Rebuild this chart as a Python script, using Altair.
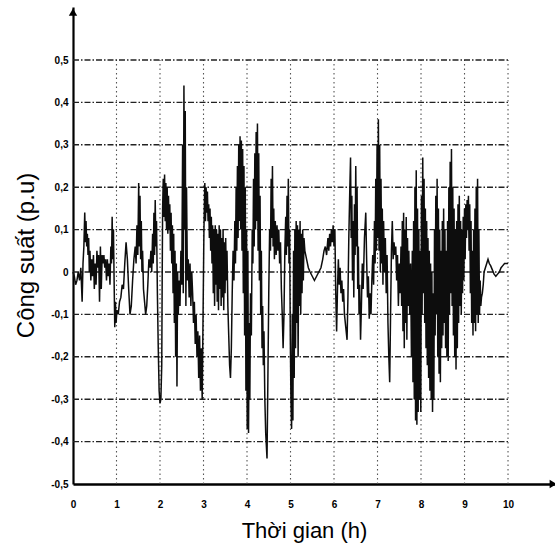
import altair as alt
import pandas as pd

# ---- readings (hours, per-unit power) ----
hours_0 = [0.00, 0.03, 0.06, 0.09, 0.12, 0.15, 0.18, 0.21, 0.23, 0.25, 0.27, 0.285, 0.30, 0.315, 0.33, 0.345, 0.36, 0.375, 0.39, 0.41, 0.43, 0.45, 0.47, 0.49, 0.51, 0.53, 0.55, 0.57, 0.59, 0.61, 0.63, 0.65, 0.67, 0.69, 0.71, 0.73, 0.75, 0.77, 0.79, 0.81, 0.83, 0.85, 0.87, 0.885, 0.90, 0.915, 0.93, 0.945, 0.96, 0.975, 0.99]
power_0 = [0.00, -0.01, -0.03, -0.02, 0.00, -0.02, 0.01, -0.07, 0.02, 0.06, 0.14, 0.07, 0.12, 0.06, 0.09, 0.04, 0.08, 0.00, 0.05, -0.02, 0.03, -0.01, 0.04, -0.04, 0.02, -0.03, 0.05, 0.01, 0.04, -0.07, 0.06, -0.04, 0.04, 0.02, 0.04, 0.01, 0.03, -0.02, 0.03, -0.01, 0.02, -0.03, 0.06, 0.02, 0.13, 0.03, 0.10, -0.02, -0.13, -0.07, -0.12]

hours_1 = [1.01, 1.04, 1.07, 1.10, 1.13, 1.16, 1.19, 1.22, 1.25, 1.28, 1.31, 1.34, 1.37, 1.40, 1.43, 1.45, 1.47, 1.49, 1.51, 1.525, 1.54, 1.555, 1.57, 1.585, 1.60, 1.62, 1.645, 1.67, 1.695, 1.72, 1.745, 1.77, 1.79, 1.81, 1.83, 1.845, 1.86, 1.875, 1.89, 1.905, 1.92, 1.94, 1.96, 1.98, 2.00]
power_1 = [-0.09, -0.10, -0.07, -0.06, -0.03, -0.04, 0.02, 0.07, 0.03, -0.04, -0.10, -0.08, -0.02, 0.03, 0.06, 0.02, 0.11, 0.04, 0.21, 0.06, 0.18, 0.03, 0.12, 0.00, 0.05, -0.04, -0.07, -0.10, -0.08, -0.03, 0.03, 0.01, 0.05, 0.00, 0.09, 0.02, 0.14, 0.04, 0.17, 0.06, 0.12, -0.05, -0.18, -0.28, -0.31]

hours_2 = [2.02, 2.04, 2.05, 2.06, 2.075, 2.09, 2.105, 2.12, 2.135, 2.15, 2.165, 2.18, 2.195, 2.21, 2.225, 2.24, 2.255, 2.27, 2.285, 2.30, 2.315, 2.33, 2.345, 2.36, 2.375, 2.39, 2.405, 2.42, 2.44, 2.46, 2.48, 2.50, 2.52, 2.535, 2.55, 2.565, 2.58, 2.595, 2.61, 2.63, 2.65, 2.67, 2.69, 2.71, 2.73, 2.75, 2.77, 2.79, 2.81, 2.83, 2.85, 2.87, 2.89, 2.91, 2.93, 2.95, 2.97, 2.99]
power_2 = [-0.30, -0.22, -0.02, 0.15, 0.22, 0.13, 0.23, 0.12, 0.21, 0.10, 0.20, 0.09, 0.18, 0.10, 0.16, 0.05, 0.14, 0.02, 0.11, -0.05, 0.09, -0.12, 0.05, -0.20, 0.02, -0.27, 0.00, -0.10, -0.02, -0.08, 0.05, -0.03, 0.30, -0.05, 0.44, 0.10, 0.38, -0.08, 0.20, -0.02, 0.03, -0.06, 0.02, -0.08, 0.00, -0.05, -0.12, -0.07, -0.17, -0.10, -0.20, -0.14, -0.25, -0.15, -0.28, -0.18, -0.30, -0.10]

hours_3 = [3.01, 3.03, 3.045, 3.06, 3.075, 3.09, 3.105, 3.12, 3.135, 3.15, 3.165, 3.18, 3.195, 3.21, 3.225, 3.24, 3.255, 3.27, 3.285, 3.30, 3.315, 3.33, 3.345, 3.36, 3.375, 3.39, 3.405, 3.42, 3.435, 3.45, 3.465, 3.48, 3.495, 3.51, 3.525, 3.54, 3.56, 3.58, 3.60, 3.62, 3.64, 3.66, 3.68, 3.70, 3.72, 3.735, 3.75, 3.765, 3.78, 3.795, 3.81, 3.825, 3.84, 3.855, 3.87, 3.885, 3.90, 3.915, 3.93, 3.945, 3.96, 3.975, 3.99]
power_3 = [0.10, 0.21, 0.12, 0.20, 0.14, 0.19, 0.12, 0.16, 0.08, 0.15, 0.05, 0.13, 0.02, 0.11, -0.05, 0.10, -0.08, 0.11, -0.03, 0.10, -0.07, 0.09, -0.09, 0.11, -0.04, 0.10, -0.08, 0.08, -0.06, 0.10, -0.09, 0.07, -0.05, 0.08, -0.02, 0.05, -0.08, -0.15, -0.22, -0.25, -0.18, -0.05, 0.05, -0.02, 0.12, 0.02, 0.20, 0.05, 0.25, 0.08, 0.30, 0.12, 0.32, 0.10, 0.31, 0.05, 0.29, -0.05, 0.25, -0.15, 0.20, -0.28, 0.10]

hours_4 = [4.005, 4.02, 4.035, 4.05, 4.065, 4.08, 4.10, 4.12, 4.135, 4.15, 4.165, 4.18, 4.195, 4.21, 4.225, 4.24, 4.255, 4.27, 4.285, 4.30, 4.315, 4.33, 4.345, 4.36, 4.375, 4.39, 4.41, 4.43, 4.46, 4.48, 4.50, 4.52, 4.54, 4.555, 4.57, 4.585, 4.60, 4.615, 4.63, 4.65, 4.67, 4.69, 4.71, 4.73, 4.75, 4.77, 4.79, 4.81, 4.83, 4.85, 4.87, 4.89, 4.905, 4.92, 4.935, 4.95, 4.965, 4.98, 4.995]
power_4 = [-0.37, 0.05, -0.38, -0.12, -0.30, -0.05, -0.15, 0.10, 0.02, 0.22, 0.06, 0.28, 0.10, 0.33, 0.12, 0.35, 0.05, 0.28, -0.02, 0.18, -0.10, 0.05, -0.18, -0.08, -0.22, -0.14, -0.30, -0.38, -0.44, -0.25, -0.05, 0.10, 0.05, 0.22, 0.08, 0.25, 0.06, 0.15, 0.03, 0.12, 0.04, 0.11, 0.05, 0.10, 0.02, 0.07, -0.04, -0.10, -0.18, -0.10, 0.05, 0.13, 0.04, 0.18, 0.06, 0.22, 0.02, 0.10, -0.15]

hours_5 = [5.01, 5.025, 5.04, 5.055, 5.07, 5.085, 5.10, 5.115, 5.13, 5.145, 5.16, 5.175, 5.19, 5.205, 5.22, 5.235, 5.25, 5.265, 5.28, 5.295, 5.31, 5.33, 5.37, 5.41, 5.45, 5.50, 5.55, 5.60, 5.65, 5.70, 5.74, 5.77, 5.80, 5.83, 5.86, 5.88, 5.90, 5.92, 5.94, 5.96, 5.98, 6.00]
power_5 = [-0.30, -0.37, -0.10, -0.35, 0.05, -0.25, 0.10, -0.18, 0.12, -0.12, 0.11, -0.20, 0.10, -0.08, 0.12, -0.10, 0.09, -0.05, 0.10, -0.02, 0.08, 0.05, 0.03, 0.01, 0.00, -0.01, -0.02, -0.01, 0.00, 0.01, 0.03, 0.05, 0.06, 0.04, 0.08, 0.05, 0.09, 0.06, 0.10, 0.07, 0.11, 0.06]

hours_6 = [6.02, 6.04, 6.06, 6.08, 6.10, 6.12, 6.14, 6.16, 6.18, 6.20, 6.22, 6.24, 6.27, 6.30, 6.32, 6.34, 6.36, 6.38, 6.395, 6.41, 6.425, 6.44, 6.455, 6.47, 6.485, 6.50, 6.515, 6.53, 6.545, 6.56, 6.575, 6.59, 6.61, 6.63, 6.65, 6.67, 6.70, 6.73, 6.75, 6.77, 6.79, 6.81, 6.83, 6.85, 6.87, 6.89, 6.91, 6.93, 6.945, 6.96, 6.975, 6.99]
power_6 = [0.10, -0.05, -0.14, -0.04, 0.03, -0.03, 0.01, -0.05, -0.02, -0.07, -0.04, -0.10, -0.13, -0.16, -0.06, 0.08, 0.18, 0.27, 0.08, 0.18, -0.02, 0.12, -0.06, 0.16, 0.04, 0.25, 0.06, 0.20, -0.04, 0.06, -0.10, -0.03, -0.16, -0.08, 0.02, -0.04, 0.08, 0.14, 0.03, -0.06, -0.01, -0.11, -0.05, -0.10, -0.02, 0.04, -0.03, 0.12, 0.02, 0.22, 0.05, 0.30]

hours_7 = [7.005, 7.02, 7.035, 7.05, 7.065, 7.08, 7.095, 7.11, 7.125, 7.14, 7.16, 7.18, 7.20, 7.22, 7.24, 7.26, 7.28, 7.30, 7.32, 7.34, 7.36, 7.38, 7.40, 7.42, 7.44, 7.46, 7.48, 7.50, 7.52, 7.54, 7.555, 7.57, 7.585, 7.60, 7.615, 7.63, 7.645, 7.66, 7.675, 7.69, 7.705, 7.72, 7.74, 7.76, 7.78, 7.80, 7.815, 7.83, 7.845, 7.86, 7.875, 7.89, 7.905, 7.92, 7.935, 7.95, 7.965, 7.98]
power_7 = [0.08, 0.36, 0.05, 0.30, 0.00, 0.22, 0.02, 0.15, -0.03, 0.12, 0.00, 0.08, -0.05, 0.04, -0.12, -0.20, -0.26, -0.10, 0.05, 0.12, 0.03, 0.07, 0.04, 0.06, -0.02, 0.04, -0.08, 0.02, -0.05, 0.06, -0.08, 0.12, -0.14, 0.14, -0.18, 0.10, -0.12, 0.13, -0.16, 0.08, -0.08, 0.05, -0.10, 0.02, -0.20, 0.05, -0.26, 0.12, -0.30, 0.20, -0.35, 0.24, -0.36, 0.15, -0.33, 0.10, -0.30, 0.05]

hours_8 = [7.995, 8.01, 8.025, 8.04, 8.055, 8.07, 8.085, 8.10, 8.115, 8.13, 8.145, 8.16, 8.175, 8.19, 8.205, 8.22, 8.235, 8.25, 8.265, 8.28, 8.295, 8.31, 8.325, 8.34, 8.355, 8.37, 8.385, 8.40, 8.415, 8.43, 8.445, 8.46, 8.475, 8.49, 8.505, 8.52, 8.535, 8.55, 8.565, 8.58, 8.595, 8.61, 8.625, 8.64, 8.655, 8.67, 8.685, 8.70, 8.715, 8.73, 8.745, 8.76, 8.775, 8.79, 8.805, 8.82, 8.835, 8.85, 8.865, 8.88, 8.895, 8.91, 8.925, 8.94, 8.955, 8.97, 8.985]
power_8 = [-0.33, 0.18, -0.10, 0.27, -0.05, 0.22, -0.12, 0.15, -0.18, 0.12, -0.22, 0.08, -0.25, 0.05, -0.28, 0.02, -0.30, 0.00, -0.33, -0.05, -0.30, 0.10, -0.15, 0.18, -0.10, 0.22, -0.20, 0.15, -0.24, 0.10, -0.26, 0.05, -0.18, 0.12, -0.15, 0.15, -0.12, 0.10, -0.18, 0.05, -0.20, 0.12, -0.21, 0.20, -0.10, 0.26, -0.05, 0.29, -0.08, 0.20, -0.15, 0.15, -0.20, 0.10, -0.23, 0.12, -0.18, 0.16, -0.12, 0.18, -0.08, 0.12, -0.10, 0.10, -0.05, 0.13, -0.02]

hours_9 = [9.00, 9.015, 9.03, 9.045, 9.06, 9.075, 9.09, 9.105, 9.12, 9.135, 9.15, 9.165, 9.18, 9.195, 9.21, 9.225, 9.24, 9.255, 9.27, 9.285, 9.30, 9.315, 9.33, 9.345, 9.36, 9.375, 9.39, 9.41, 9.43, 9.45, 9.48, 9.51, 9.54, 9.57, 9.60, 9.64, 9.68, 9.72, 9.76, 9.80, 9.84, 9.88, 9.92, 9.96, 10.00]
power_9 = [0.15, 0.03, 0.16, 0.08, 0.17, 0.10, 0.18, 0.05, 0.16, -0.05, 0.12, -0.12, 0.05, -0.15, 0.10, -0.12, 0.15, -0.14, 0.20, -0.10, 0.22, -0.12, 0.10, -0.10, -0.02, -0.08, -0.06, -0.05, -0.03, 0.00, 0.01, 0.02, 0.03, 0.02, 0.015, 0.005, -0.005, -0.01, -0.005, 0.00, 0.01, 0.015, 0.02, 0.02, 0.02]

x_ticks = [0, 1, 2, 3, 4, 5, 6, 7, 8, 9, 10]
x_grid = [1, 2, 3, 4, 5, 6, 7, 8, 9, 10]
y_ticks = [-0.5, -0.4, -0.3, -0.2, -0.1, 0.0, 0.1, 0.2, 0.3, 0.4, 0.5]
y_grid = [-0.4, -0.3, -0.2, -0.1, 0.0, 0.1, 0.2, 0.3, 0.4, 0.5]
x_title = "Thời gian (h)"
y_title = "Công suất (p.u)"

hours = sum([hours_0, hours_1, hours_2, hours_3, hours_4, hours_5, hours_6, hours_7, hours_8, hours_9], [])
power = sum([power_0, power_1, power_2, power_3, power_4, power_5, power_6, power_7, power_8, power_9], [])
assert len(hours) == len(power)

df = pd.DataFrame({"t": hours, "p": power})

X_MAX = 11.08
Y_MAX = 0.625
xs = alt.Scale(domain=[0, X_MAX], nice=False, zero=False)
ys = alt.Scale(domain=[-0.5, Y_MAX], nice=False, zero=False)
FONT = "Liberation Sans"

x_axis = alt.Axis(
    values=x_ticks, format="d", grid=False, tickSize=0,
    domainColor="black", domainWidth=2.5,
    labelFont=FONT, labelFontWeight="bold", labelFontSize=10, labelColor="black",
    labelPadding=15, labelFlush=False,
    title=x_title, titleFont=FONT, titleFontSize=22, titleFontWeight="normal",
    titleColor="black", titleX=231, titleY=53, titleAlign="center",
    titleBaseline="alphabetic",
)
y_axis = alt.Axis(
    values=y_ticks, grid=False, tickSize=0,
    domainColor="black", domainWidth=2.2,
    labelExpr="datum.value == 0 ? '0' : (datum.value < 0 ? '-' : '') + '0,' + round(abs(datum.value) * 10)",
    labelFont=FONT, labelFontWeight="bold", labelFontSize=10, labelColor="black",
    labelPadding=5, labelFlush=False,
    title=y_title, titleFont=FONT, titleFontSize=24, titleFontWeight="normal",
    titleColor="black", titleX=-40, titleY=248, titleAngle=270,
    titleAlign="center", titleBaseline="alphabetic",
)

vgrid_df = pd.DataFrame({"t": x_grid, "lo": [-0.5] * len(x_grid), "hi": [0.5] * len(x_grid)})
hgrid_df = pd.DataFrame({"p": y_grid, "lo": [0] * len(y_grid), "hi": [10] * len(y_grid)})

vgrid = alt.Chart(vgrid_df).mark_rule(color="#555", strokeWidth=1.1, strokeDash=[1.5, 3]).encode(
    x=alt.X("t:Q", scale=xs, axis=x_axis),
    y=alt.Y("lo:Q", scale=ys, axis=y_axis),
    y2="hi:Q",
)
hgrid = alt.Chart(hgrid_df).mark_rule(color="#222", strokeWidth=1.4, strokeDash=[6, 2, 1.5, 2]).encode(
    y=alt.Y("p:Q", scale=ys, axis=y_axis),
    x=alt.X("lo:Q", scale=xs, axis=x_axis),
    x2="hi:Q",
)

trace = alt.Chart(df).mark_line(color="#0d0d0d", strokeWidth=1.5).encode(
    x=alt.X("t:Q", scale=xs, axis=x_axis),
    y=alt.Y("p:Q", scale=ys, axis=y_axis),
)

up_df = pd.DataFrame({"t": [0], "p": [Y_MAX - 0.012]})
right_df = pd.DataFrame({"t": [X_MAX - 0.04], "p": [-0.5]})
up_arrow = alt.Chart(up_df).mark_point(shape="triangle-up", filled=True, color="black", size=70, opacity=1).encode(
    x=alt.X("t:Q", scale=xs, axis=x_axis), y=alt.Y("p:Q", scale=ys, axis=y_axis)
)
right_arrow = alt.Chart(right_df).mark_point(shape="triangle-right", filled=True, color="black", size=70, opacity=1).encode(
    x=alt.X("t:Q", scale=xs, axis=x_axis), y=alt.Y("p:Q", scale=ys, axis=y_axis)
)

chart = alt.layer(vgrid, hgrid, trace, up_arrow, right_arrow).properties(
    width=482, height=477,
    padding={"left": 73, "top": 7, "right": 0, "bottom": 61},
    autosize=alt.AutoSizeParams(type="none"),
    background="white",
).configure_view(stroke=None, clip=False)

chart.save("out.html", embed_options={"renderer": "svg", "actions": False})
